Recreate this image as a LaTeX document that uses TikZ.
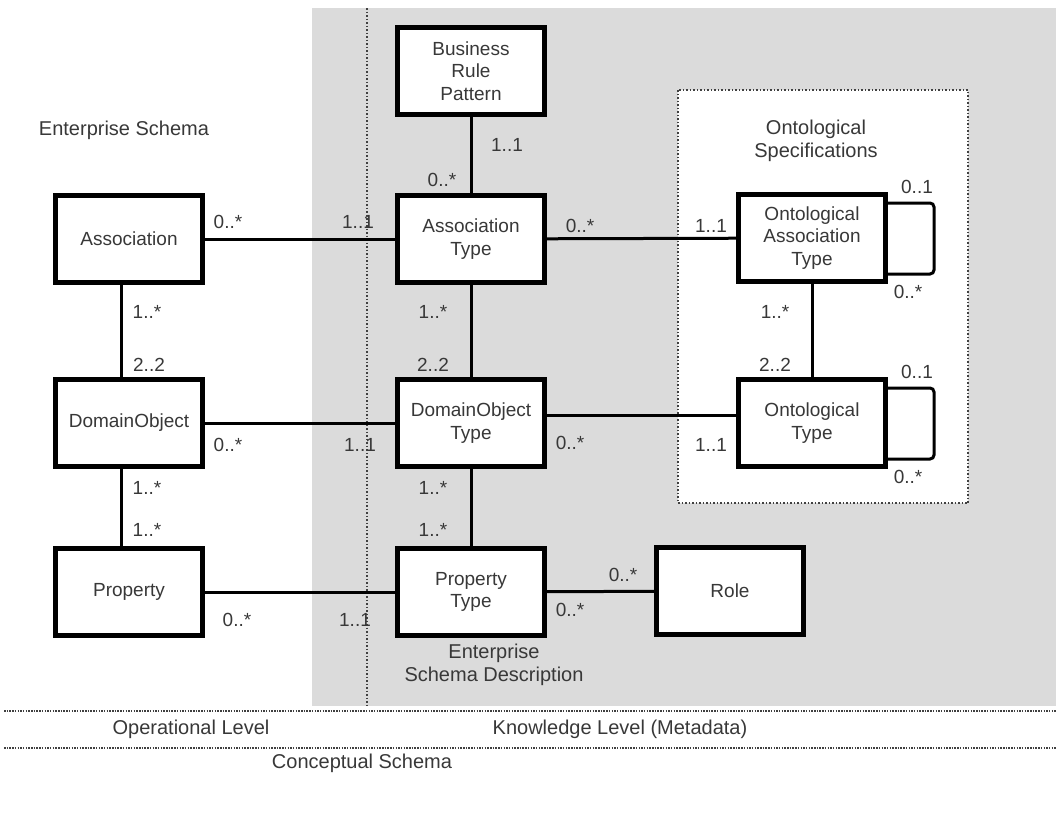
\documentclass[tikz,border=0pt]{standalone}
\usepackage{fontspec}
\setmainfont{Liberation Sans}
\begin{document}
\begin{tikzpicture}[x=1pt,y=-1pt,
  entity/.style={draw=black, line width=5pt, fill=white, minimum width=147pt,
    minimum height=87pt, inner sep=2pt, align=center, text=black!78,
    font=\fontsize{19}{22.5}\selectfont},
  link/.style={line width=3pt, draw=black},
  selfloop/.style={line width=3pt, draw=black, rounded corners=4pt},
  mult/.style={text=black!78, font=\fontsize{19}{22}\selectfont, inner sep=0pt},
  caption/.style={text=black!78, font=\fontsize{20}{23}\selectfont, align=center, inner sep=0pt},
  divider/.style={draw=black!75, line width=1.6pt, dash pattern=on 1.5pt off 2pt},
  levelrule/.style={draw=black!75, line width=2.2pt, dash pattern=on 1.5pt off 1.2pt}
]
\useasboundingbox (0,0) rectangle (1056,814);

% knowledge-level shading with the ontology area cut out
\fill[black!14] (312,8) rectangle (1056,706);
\fill[white] (678,90) rectangle (968,503);
\draw[divider] (678,90) rectangle (968,503);
\draw[divider] (367,8) -- (367,708);

% level separators
\draw[levelrule] (4,711) -- (1056,711);
\draw[levelrule] (4,748) -- (1056,748);

% entities
\node[entity] (brp)   at (471,71)  {Business\\Rule\\Pattern};
\node[entity] (at)    at (471,239) {Association\\Type};
\node[entity] (assoc) at (129,239) {Association};
\node[entity] (oat)   at (812,238) {Ontological\\Association\\Type};
\node[entity] (dobj)  at (129,423) {DomainObject};
\node[entity] (dot)   at (471,423) {DomainObject\\Type};
\node[entity] (ot)    at (812,423) {Ontological\\Type};
\node[entity] (prop)  at (129,592) {Property};
\node[entity] (pt)    at (471,592) {Property\\Type};
\node[entity] (role)  at (730,591) {Role};

% associations
\draw[link] (brp) -- (at);
\draw[link] (assoc) -- (at);
\draw[link] (at) -- (oat);
\draw[link] ([xshift=-8pt]assoc.south) -- ([xshift=-8pt]dobj.north);
\draw[link] (at) -- (dot);
\draw[link] (oat) -- (ot);
\draw[link] (dobj) -- (dot);
\draw[link] ([yshift=8pt]dot.east) -- ([yshift=8pt]ot.west);
\draw[link] ([xshift=-8pt]dobj.south) -- ([xshift=-8pt]prop.north);
\draw[link] (dot) -- (pt);
\draw[link] (prop) -- (pt);
\draw[link] (pt) -- (role);

% recursive associations
\draw[selfloop] ([yshift=35pt]oat.east) -- ++(46,0) -- ++(0,71) -- ([yshift=-36pt]oat.east);
\draw[selfloop] ([yshift=35pt]ot.east) -- ++(46,0) -- ++(0,71) -- ([yshift=-36pt]ot.east);

% multiplicities
\node[mult] (m1)  at (507,145) {1..1};
\node[mult] (m2)  at (442,180) {0..*};
\node[mult] (m3)  at (228,222) {0..*};
\node[mult] (m4)  at (358,222) {1..1};
\node[mult] (m5)  at (580,226) {0..*};
\node[mult] (m6)  at (711,226) {1..1};
\node[mult] (m7)  at (917,187) {0..1};
\node[mult] (m8)  at (908,292) {0..*};
\node[mult] (m9)  at (147,312) {1..*};
\node[mult] (m10) at (149,365) {2..2};
\node[mult] (m11) at (433,312) {1..*};
\node[mult] (m12) at (433,365) {2..2};
\node[mult] (m13) at (775,312) {1..*};
\node[mult] (m14) at (775,365) {2..2};
\node[mult] (m15) at (917,372) {0..1};
\node[mult] (m16) at (908,477) {0..*};
\node[mult] (m17) at (228,445) {0..*};
\node[mult] (m18) at (360,445) {1..1};
\node[mult] (m19) at (570,443) {0..*};
\node[mult] (m20) at (711,445) {1..1};
\node[mult] (m21) at (147,488) {1..*};
\node[mult] (m22) at (147,530) {1..*};
\node[mult] (m23) at (433,488) {1..*};
\node[mult] (m24) at (433,530) {1..*};
\node[mult] (m25) at (237,620) {0..*};
\node[mult] (m26) at (355,620) {1..1};
\node[mult] (m27) at (623,575) {0..*};
\node[mult] (m28) at (570,610) {0..*};

% area captions
\node[caption] (cES)  at (124,130) {Enterprise Schema};
\node[caption] (cOS)  at (816,141) {Ontological\\Specifications};
\node[caption] (cESD) at (494,665) {Enterprise\\Schema Description};
\node[caption] (cOL)  at (191,729) {Operational Level};
\node[caption] (cKL)  at (620,729) {Knowledge Level (Metadata)};
\node[caption] (cCS)  at (362,763) {Conceptual Schema};
\end{tikzpicture}
\end{document}
